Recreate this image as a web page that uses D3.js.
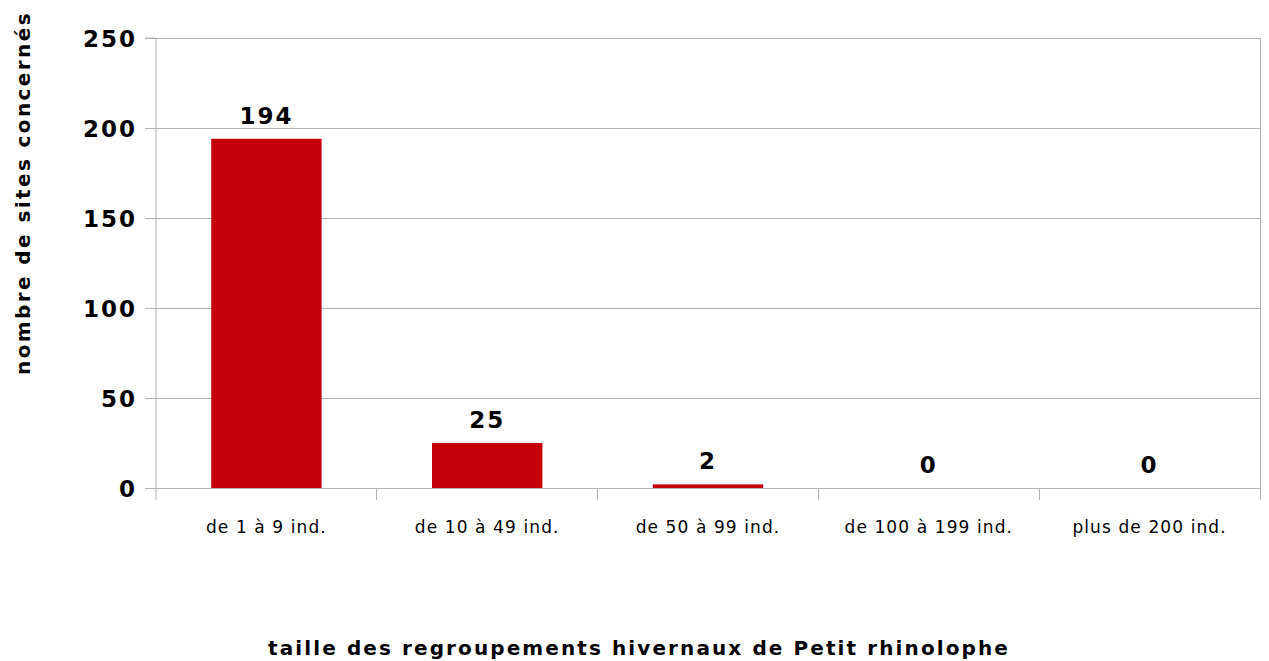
<!DOCTYPE html>
<html>
<head>
<meta charset="utf-8">
<script src="https://cdn.jsdelivr.net/npm/d3@7"></script>
<style>
  body { margin: 0; background: #fff; }
  svg text { font-family: "Comic Sans MS", "DejaVu Sans", sans-serif; fill: #000; }
</style>
</head>
<body>
<svg id="chart" width="1269" height="661"></svg>
<script>
// data
const categories = ["de 1 à 9 ind.", "de 10 à 49 ind.", "de 50 à 99 ind.", "de 100 à 199 ind.", "plus de 200 ind."];
const values = [194, 25, 2, 0, 0];
const yTicks = [0, 50, 100, 150, 200, 250];

const svg = d3.select("#chart");
const margin = { top: 38, right: 9, bottom: 173, left: 156 };
const width = 1269 - margin.left - margin.right;
const height = 661 - margin.top - margin.bottom;

const x = d3.scaleBand().domain(categories).range([0, width]).paddingInner(0.5).paddingOuter(0.25);
const xb = d3.scaleBand().domain(categories).range([0, width]); // for tick separators
const y = d3.scaleLinear().domain([0, 250]).range([height, 0]);

const g = svg.append("g").attr("transform", `translate(${margin.left},${margin.top})`);

// grid
g.selectAll(".grid")
  .data(yTicks)
  .enter()
  .append("line")
  .attr("x1", 0)
  .attr("x2", width)
  .attr("y1", (d) => y(d))
  .attr("y2", (d) => y(d))
  .attr("stroke", "#b3b3b3")
  .attr("stroke-width", 1)
  .attr("shape-rendering", "crispEdges");

// right border
g.append("line")
  .attr("x1", width).attr("x2", width)
  .attr("y1", 0).attr("y2", height + 12)
  .attr("stroke", "#b3b3b3")
  .attr("shape-rendering", "crispEdges");

// y axis
const yAxis = g.append("g")
  .call(d3.axisLeft(y).tickValues(yTicks).tickSize(11).tickPadding(8));
yAxis.select(".domain").attr("stroke", "#b3b3b3").attr("d", `M-11,0H0V${height + 12}`);
yAxis.selectAll(".tick line").attr("stroke", "#b3b3b3");
yAxis.selectAll(".tick text")
  .style("font-size", "23px")
  .style("font-weight", "bold")
  .style("letter-spacing", "2px")
  .attr("dy", "0.36em");

// x axis separators
const seps = categories.map((c) => xb(c)).slice(1).concat([width]);
g.selectAll(".sep")
  .data(seps)
  .enter()
  .append("line")
  .attr("x1", (d) => d).attr("x2", (d) => d)
  .attr("y1", height).attr("y2", height + 12)
  .attr("stroke", "#b3b3b3")
  .attr("shape-rendering", "crispEdges");

// category labels
g.selectAll(".cat")
  .data(categories)
  .enter()
  .append("text")
  .attr("x", (d) => xb(d) + xb.bandwidth() / 2)
  .attr("y", height + 45)
  .attr("text-anchor", "middle")
  .style("font-size", "17px")
  .style("letter-spacing", "1.1px")
  .text((d) => d);

// bars
g.selectAll(".bar")
  .data(values)
  .enter()
  .append("rect")
  .attr("x", (d, i) => x(categories[i]))
  .attr("y", (d) => y(d))
  .attr("width", x.bandwidth())
  .attr("height", (d) => height - y(d))
  .attr("fill", "#c5000b");

// value labels
g.selectAll(".val")
  .data(values)
  .enter()
  .append("text")
  .attr("x", (d, i) => x(categories[i]) + x.bandwidth() / 2)
  .attr("y", (d) => y(d) - 15)
  .attr("text-anchor", "middle")
  .style("font-size", "23px")
  .style("font-weight", "bold")
  .style("letter-spacing", "2px")
  .text((d) => d);

// axis titles
svg.append("text")
  .attr("transform", "translate(30,193) rotate(-90)")
  .attr("text-anchor", "middle")
  .style("font-size", "20px")
  .style("font-weight", "bold")
  .style("letter-spacing", "2.4px")
  .text("nombre de sites concernés");

svg.append("text")
  .attr("x", 639)
  .attr("y", 655)
  .attr("text-anchor", "middle")
  .style("font-size", "20px")
  .style("font-weight", "bold")
  .style("letter-spacing", "2.1px")
  .text("taille des regroupements hivernaux de Petit rhinolophe");
</script>
</body>
</html>
